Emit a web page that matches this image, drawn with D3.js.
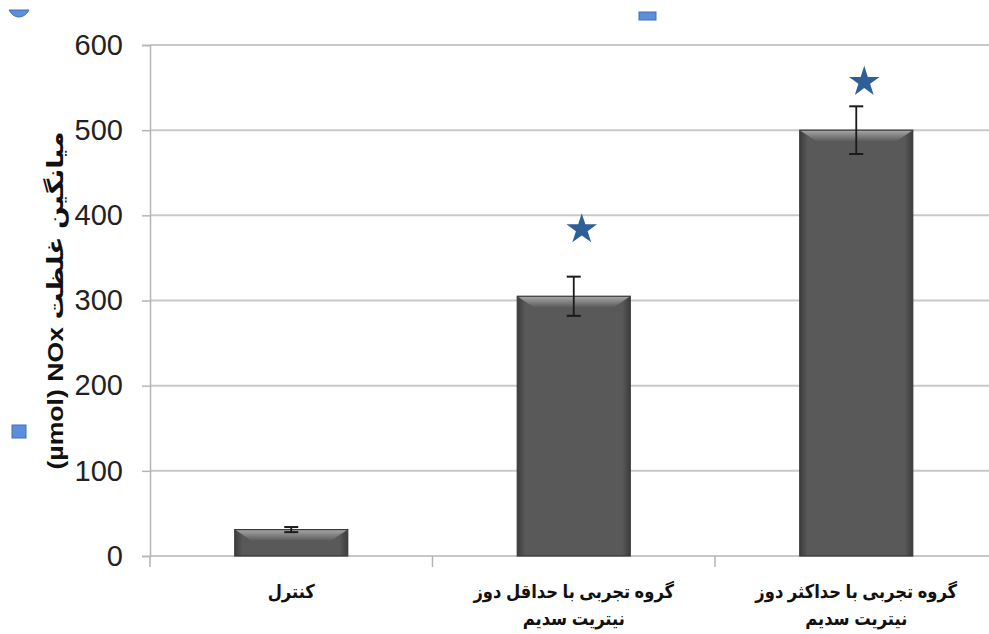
<!DOCTYPE html>
<html lang="fa">
<head>
    <meta charset="UTF-8">
    <title>NOx</title>
    <script src="https://d3js.org/d3.v7.min.js"></script>
    <style>
        body { margin: 0; background: #fff; }
        svg { display: block; }
        text { font-family: "Liberation Sans", "DejaVu Sans", sans-serif; }
    </style>
</head>
<body>
<div id="chart"></div>
<script>
    // data
    const categories = ["control", "minDose", "maxDose"];
    const labelLines = [
        ["کنترل"],
        ["گروه تجربی با حداقل دوز", "نیتریت سدیم"],
        ["گروه تجربی با حداکثر دوز", "نیتریت سدیم"]
    ];
    const means = [31, 305, 500];
    const errors = [3, 23, 28];
    const starLevels = [null, 386, 559];
    const yTicks = [0, 100, 200, 300, 400, 500, 600];
    const yTitle = "(µmol) NOx میانگین غلظت";

    const width = 989, height = 634;
    const plotLeft = 150, plotBottom = 556, plotTop = 45;

    const svg = d3.select("#chart").append("svg")
        .attr("width", width)
        .attr("height", height);

    const x = d3.scaleBand()
        .domain(categories)
        .range([plotLeft, plotLeft + 3 * 282.5])
        .padding(0);

    const y = d3.scaleLinear()
        .domain([0, 600])
        .range([plotBottom, plotTop]);

    // gridlines
    svg.append("g")
        .selectAll("line")
        .data(yTicks.filter(d => d > 0))
        .join("line")
        .attr("x1", plotLeft).attr("x2", width)
        .attr("y1", d => y(d)).attr("y2", d => y(d))
        .attr("stroke", "#c9c9c9")
        .attr("stroke-width", 2);

    // y axis
    const yAxis = svg.append("g")
        .attr("transform", `translate(${plotLeft},0)`)
        .call(d3.axisLeft(y).tickValues(yTicks).tickSize(8).tickPadding(19));
    yAxis.select(".domain").attr("stroke", "#b5b5b5").attr("stroke-width", 1.5);
    yAxis.selectAll(".tick line").attr("stroke", "#b5b5b5").attr("stroke-width", 1.5);
    yAxis.selectAll(".tick text")
        .attr("font-size", 29)
        .attr("fill", "#222")
        .attr("font-family", "Liberation Sans, Arial, sans-serif");

    // x axis line + band separators
    svg.append("line")
        .attr("x1", plotLeft).attr("x2", width)
        .attr("y1", y(0)).attr("y2", y(0))
        .attr("stroke", "#b5b5b5").attr("stroke-width", 1.5);
    svg.append("g")
        .selectAll("line")
        .data(categories)
        .join("line")
        .attr("x1", d => x(d)).attr("x2", d => x(d))
        .attr("y1", y(0)).attr("y2", y(0) + 11)
        .attr("stroke", "#b5b5b5").attr("stroke-width", 1.5);

    // bar shading
    const defs = svg.append("defs");
    const side = defs.append("linearGradient").attr("id", "barSide")
        .attr("x1", 0).attr("x2", 1).attr("y1", 0).attr("y2", 0);
    side.append("stop").attr("offset", "0%").attr("stop-color", "#3c3c3c");
    side.append("stop").attr("offset", "7%").attr("stop-color", "#595959");
    side.append("stop").attr("offset", "93%").attr("stop-color", "#595959");
    side.append("stop").attr("offset", "100%").attr("stop-color", "#3c3c3c");
    const topG = defs.append("linearGradient").attr("id", "barTop")
        .attr("x1", 0).attr("x2", 0).attr("y1", 0).attr("y2", 1);
    topG.append("stop").attr("offset", "0%").attr("stop-color", "#a8a8a8");
    topG.append("stop").attr("offset", "100%").attr("stop-color", "#5c5c5c");

    const barW = x.bandwidth() * 0.4;
    const barX = d => x(d) + x.bandwidth() * 0.3;
    const bevel = 11;

    const bars = svg.append("g")
        .selectAll("g")
        .data(categories.map((c, i) => ({ c, v: means[i], e: errors[i], s: starLevels[i] })))
        .join("g");

    bars.append("rect")
        .attr("x", d => barX(d.c))
        .attr("y", d => y(d.v))
        .attr("width", barW)
        .attr("height", d => y(0) - y(d.v))
        .attr("fill", "url(#barSide)");

    bars.append("path")
        .attr("d", d => {
            const x0 = barX(d.c), x1 = x0 + barW, t = y(d.v);
            const h = Math.min(bevel, (y(0) - t) * 0.5);
            return `M${x0},${t}L${x1},${t}L${x1 - bevel * 1.5},${t + h}L${x0 + bevel * 1.5},${t + h}Z`;
        })
        .attr("fill", "url(#barTop)");

    bars.append("rect")
        .attr("x", d => barX(d.c))
        .attr("y", d => y(d.v))
        .attr("width", barW)
        .attr("height", d => y(0) - y(d.v))
        .attr("fill", "none")
        .attr("stroke", "#3a3a3a")
        .attr("stroke-width", 1.2);

    // error bars
    const cx = d => x(d.c) + x.bandwidth() / 2;
    bars.append("line")
        .attr("x1", cx).attr("x2", cx)
        .attr("y1", d => y(d.v + d.e)).attr("y2", d => y(d.v - d.e))
        .attr("stroke", "#1a1a1a").attr("stroke-width", 1.8);
    bars.append("line")
        .attr("x1", d => cx(d) - 7).attr("x2", d => cx(d) + 7)
        .attr("y1", d => y(d.v + d.e)).attr("y2", d => y(d.v + d.e))
        .attr("stroke", "#1a1a1a").attr("stroke-width", 2);
    bars.append("line")
        .attr("x1", d => cx(d) - 7).attr("x2", d => cx(d) + 7)
        .attr("y1", d => y(d.v - d.e)).attr("y2", d => y(d.v - d.e))
        .attr("stroke", "#1a1a1a").attr("stroke-width", 2);

    // significance stars
    bars.filter(d => d.s !== null)
        .append("path")
        .attr("d", d3.symbol().type(d3.symbolStar).size(290))
        .attr("transform", d => `translate(${cx(d) + 8},${y(d.s) + 2})`)
        .attr("fill", "#2f5f97");

    // category labels
    svg.append("g")
        .selectAll("text")
        .data(categories)
        .join("text")
        .attr("text-anchor", "middle")
        .attr("font-weight", "bold")
        .attr("font-size", 19)
        .attr("fill", "#111")
        .attr("x", d => x(d) + x.bandwidth() / 2)
        .attr("y", 598)
        .selectAll("tspan")
        .data((d, i) => labelLines[i])
        .join("tspan")
        .attr("x", function () { return d3.select(this.parentNode).attr("x"); })
        .attr("dy", (d, i) => i === 0 ? 0 : 27)
        .text(d => d)
        .each(function () {
            // the source font is narrower than DejaVu
            const w = this.getComputedTextLength();
            d3.select(this).attr("textLength", w * 0.86).attr("lengthAdjust", "spacingAndGlyphs");
        });

    // y axis title
    svg.append("text")
        .attr("transform", `translate(63,${(plotTop + plotBottom) / 2}) rotate(-90)`)
        .attr("text-anchor", "middle")
        .attr("font-weight", "bold")
        .attr("font-size", 22)
        .attr("fill", "#111")
        .attr("textLength", 338)
        .attr("lengthAdjust", "spacingAndGlyphs")
        .text(yTitle);

    // leftover legend markers from the source picture
    const blue = "#5b8fdc", blueEdge = "#3f6fb8";
    svg.append("rect").attr("x", 12).attr("y", 425).attr("width", 14).attr("height", 13)
        .attr("fill", blue).attr("stroke", blueEdge);
    svg.append("rect").attr("x", 639).attr("y", 12).attr("width", 17).attr("height", 8)
        .attr("fill", blue).attr("stroke", blueEdge);
    svg.append("path").attr("d", "M9,10 L29,10 Q25,17 19,17 Q13,17 9,10 Z")
        .attr("fill", blue).attr("stroke", blueEdge);
</script>
</body>
</html>
